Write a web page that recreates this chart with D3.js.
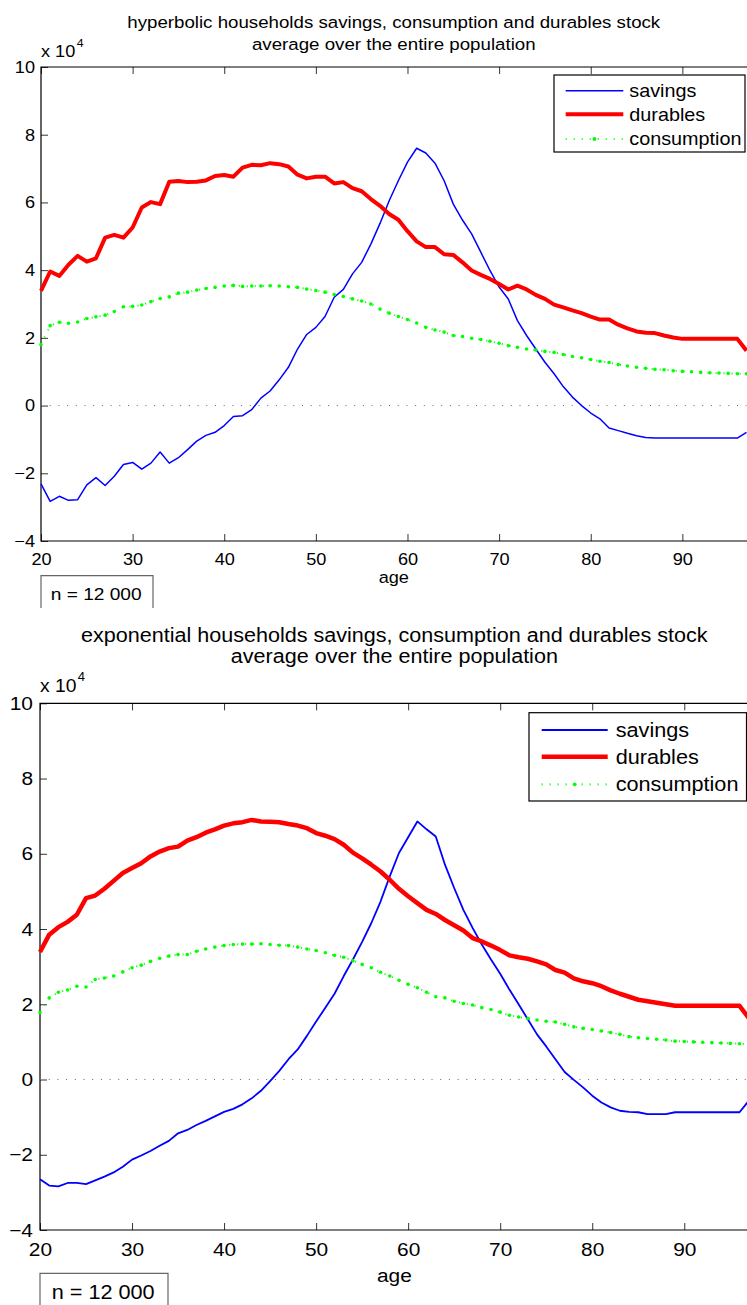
<!DOCTYPE html>
<html>
<head>
<meta charset="utf-8">
<script src="https://cdn.jsdelivr.net/npm/d3@7"></script>
<style>
  body { margin: 0; background: #fff; }
  svg { display: block; }
  text { font-family: "Liberation Sans", Arial, Helvetica, sans-serif; fill: #000; }
</style>
</head>
<body>
<svg id="chart" width="747" height="1305"></svg>
<script>
// Age of household head (years)
const ages = [20,21,22,23,24,25,26,27,28,29,30,31,32,33,34,35,36,37,38,39,
  40,41,42,43,44,45,46,47,48,49,50,51,52,53,54,55,56,57,58,59,
  60,61,62,63,64,65,66,67,68,69,70,71,72,73,74,75,76,77,78,79,
  80,81,82,83,84,85,86,87,88,89,90,91,92,93,94,95,96,97];

// Hyperbolic households, population averages (units of 10^4)
const hypSavings = [-2.31,-2.83,-2.68,-2.80,-2.78,-2.34,-2.13,-2.36,-2.09,-1.74,
  -1.68,-1.88,-1.70,-1.37,-1.70,-1.54,-1.30,-1.05,-0.88,-0.79,
  -0.59,-0.32,-0.30,-0.12,0.22,0.43,0.76,1.13,1.67,2.10,
  2.31,2.63,3.20,3.43,3.89,4.23,4.77,5.38,6.05,6.64,
  7.19,7.60,7.46,7.16,6.64,5.95,5.48,5.07,4.53,3.99,
  3.50,3.15,2.51,2.07,1.67,1.28,0.94,0.56,0.25,0.00,
  -0.22,-0.39,-0.66,-0.74,-0.82,-0.89,-0.94,-0.96,-0.96,-0.96,
  -0.96,-0.96,-0.96,-0.96,-0.96,-0.96,-0.96,-0.79];
const hypDurables = [3.39,3.96,3.83,4.16,4.42,4.25,4.35,4.96,5.04,4.96,
  5.26,5.85,6.01,5.95,6.61,6.63,6.60,6.61,6.65,6.78,
  6.81,6.76,7.03,7.11,7.10,7.16,7.13,7.06,6.82,6.71,
  6.76,6.76,6.56,6.60,6.42,6.33,6.10,5.90,5.66,5.49,
  5.15,4.85,4.68,4.68,4.47,4.45,4.23,3.99,3.86,3.74,
  3.59,3.43,3.54,3.43,3.27,3.15,2.98,2.90,2.81,2.73,
  2.63,2.54,2.54,2.39,2.28,2.19,2.15,2.14,2.07,2.01,
  1.97,1.97,1.97,1.97,1.97,1.97,1.97,1.62];
const hypConsumption = [1.80,2.36,2.46,2.43,2.47,2.57,2.62,2.67,2.78,2.92,
  2.93,2.97,3.07,3.16,3.21,3.32,3.35,3.41,3.46,3.49,
  3.53,3.55,3.52,3.53,3.53,3.54,3.53,3.51,3.49,3.44,
  3.40,3.35,3.28,3.22,3.15,3.09,3.00,2.85,2.73,2.63,
  2.54,2.44,2.31,2.23,2.17,2.07,2.04,1.99,1.95,1.90,
  1.84,1.77,1.72,1.67,1.64,1.60,1.57,1.51,1.45,1.41,
  1.36,1.31,1.27,1.21,1.17,1.13,1.10,1.07,1.06,1.03,
  1.01,1.00,0.98,0.97,0.96,0.95,0.94,0.94];

// Exponential households, population averages (units of 10^4)
const expSavings = [-2.65,-2.82,-2.84,-2.75,-2.75,-2.78,-2.68,-2.58,-2.47,-2.32,
  -2.13,-2.02,-1.90,-1.76,-1.63,-1.43,-1.34,-1.21,-1.10,-0.98,
  -0.86,-0.78,-0.66,-0.50,-0.30,-0.04,0.23,0.54,0.80,1.16,
  1.54,1.91,2.28,2.75,3.19,3.66,4.16,4.73,5.40,6.02,
  6.44,6.86,6.65,6.46,5.71,5.09,4.51,4.03,3.59,3.19,
  2.81,2.39,2.00,1.60,1.20,0.88,0.54,0.20,-0.01,-0.21,
  -0.43,-0.61,-0.74,-0.83,-0.86,-0.87,-0.92,-0.92,-0.92,-0.87,
  -0.87,-0.87,-0.87,-0.87,-0.87,-0.87,-0.87,-0.57];
const expDurables = [3.39,3.85,4.05,4.19,4.38,4.82,4.89,5.07,5.28,5.49,
  5.62,5.75,5.93,6.06,6.15,6.19,6.35,6.44,6.56,6.65,
  6.75,6.81,6.84,6.90,6.86,6.85,6.84,6.79,6.75,6.68,
  6.55,6.48,6.39,6.24,6.03,5.88,5.71,5.53,5.31,5.07,
  4.87,4.69,4.51,4.40,4.24,4.10,3.96,3.76,3.67,3.56,
  3.44,3.30,3.25,3.21,3.14,3.06,2.91,2.84,2.69,2.61,
  2.56,2.48,2.37,2.28,2.20,2.12,2.08,2.04,2.00,1.96,
  1.96,1.96,1.96,1.96,1.96,1.96,1.96,1.64];
const expConsumption = [1.78,2.17,2.32,2.38,2.48,2.46,2.66,2.70,2.75,2.86,
  2.97,3.04,3.14,3.22,3.28,3.32,3.32,3.41,3.47,3.52,
  3.56,3.59,3.60,3.60,3.61,3.59,3.57,3.56,3.52,3.47,
  3.43,3.37,3.30,3.25,3.16,3.06,2.97,2.85,2.75,2.64,
  2.53,2.44,2.32,2.20,2.17,2.08,2.02,1.98,1.91,1.86,
  1.79,1.71,1.66,1.62,1.58,1.55,1.53,1.47,1.40,1.36,
  1.33,1.29,1.25,1.20,1.14,1.11,1.09,1.07,1.05,1.02,
  1.01,1.00,0.99,0.98,0.97,0.96,0.95,0.94];

const xTicks = [20, 30, 40, 50, 60, 70, 80, 90];
const yTicks = [-4, -2, 0, 2, 4, 6, 8, 10];
const seriesNames = ["savings", "durables", "consumption"];
const xLabel = "age";
const sampleNote = "n = 12 000";
const titleHyp = ["hyperbolic households savings, consumption and durables stock",
                  "average over the entire population"];
const titleExp = ["exponential households savings, consumption and durables stock",
                  "average over the entire population"];

const svg = d3.select("#chart");
const SX = 1.1; // horizontal stretch of the lettering

function stretchedText(g, x, y, str, size, anchor) {
  return g.append("text")
    .attr("transform", `translate(${x},${y}) scale(${SX},1)`)
    .attr("font-size", size)
    .attr("text-anchor", anchor || "start")
    .text(str);
}

function drawPanel(p) {
  const g = svg.append("g");
  const x = d3.scaleLinear().domain([20, 97]).range([p.left, p.right]);
  const y = d3.scaleLinear().domain([-4, 10]).range([p.bottom, p.top]);

  // titles
  p.title.forEach((t, i) => stretchedText(g, (p.left + p.right) / 2, p.titleY[i], t, p.titleFs, "middle"));

  // exponent note: "x 10" followed by a raised 4
  const base = stretchedText(g, p.left, p.expY, "x 10", p.expFs);
  const bw = base.node().getComputedTextLength() * SX;
  stretchedText(g, p.left + bw + 1.5, p.expY - p.expFs * 0.6, "4", p.expFs * 0.68);

  // axes
  const yAxis = d3.axisLeft(y).tickValues(yTicks).tickSize(-7).tickSizeOuter(0).tickPadding(p.yPad);
  const gy = g.append("g").attr("transform", `translate(${p.left},0)`).call(yAxis);
  const xAxis = d3.axisBottom(x).tickValues(xTicks).tickSize(-7).tickSizeOuter(0).tickPadding(p.xPad);
  const gx = g.append("g").attr("transform", `translate(0,${p.bottom})`).call(xAxis);
  const xTop = d3.axisTop(x).tickValues(xTicks).tickSize(-7).tickSizeOuter(0).tickFormat("");
  const gt = g.append("g").attr("transform", `translate(0,${p.top})`).call(xTop);
  [gy, gx, gt].forEach(a => {
    a.select(".domain").remove();
    a.attr("font-size", null).attr("font-family", null);
    a.selectAll(".tick line").attr("stroke", "#000").attr("stroke-width", 0.8);
  });
  gy.selectAll(".tick text").attr("font-size", p.tickFs)
    .attr("transform", `scale(${SX},1)`).attr("x", -p.yPad / SX);
  gx.selectAll(".tick text").attr("font-size", p.tickFs)
    .attr("transform", `scale(${SX},1)`);

  // frame (left, bottom, top)
  g.append("path")
    .attr("d", `M${p.right + 2},${p.top}H${p.left}V${p.bottom}H${p.right + 2}`)
    .attr("fill", "none").attr("stroke", "#000").attr("stroke-width", 1.2);

  // zero reference
  g.append("line")
    .attr("x1", p.left).attr("x2", p.right).attr("y1", y(0)).attr("y2", y(0))
    .attr("stroke", "#666").attr("stroke-width", 1).attr("stroke-dasharray", "1,7.7");

  const line = d3.line().x((d, i) => x(ages[i])).y(d => y(d));

  g.append("path").datum(p.savings).attr("d", line)
    .attr("fill", "none").attr("stroke", "#0000ff").attr("stroke-width", p.blueW)
    .attr("stroke-linejoin", "round");
  g.append("path").datum(p.durables).attr("d", line)
    .attr("fill", "none").attr("stroke", "#ff0000").attr("stroke-width", p.redW)
    .attr("stroke-linejoin", "round");
  g.append("path").datum(p.consumption).attr("d", line)
    .attr("fill", "none").attr("stroke", "#00ff00").attr("stroke-width", 2)
    .attr("stroke-dasharray", "1,7");
  g.selectAll("circle.cons").data(p.consumption).join("circle")
    .attr("class", "cons")
    .attr("cx", (d, i) => x(ages[i])).attr("cy", d => y(d)).attr("r", 1.8)
    .attr("fill", "#00ff00");

  // x label
  stretchedText(g, (p.left + p.right) / 2, p.ageY, xLabel, p.tickFs, "middle");

  // legend
  const L = p.legend;
  g.append("rect").attr("x", L.x0).attr("y", L.y0)
    .attr("width", L.x1 - L.x0).attr("height", L.y1 - L.y0)
    .attr("fill", "#fff").attr("stroke", "#000").attr("stroke-width", 1.2);
  const styles = [
    { c: "#0000ff", w: p.blueW },
    { c: "#ff0000", w: p.redW },
    { c: "#00ff00", w: 2.2, dash: "1,7" }
  ];
  seriesNames.forEach((name, i) => {
    const yy = L.rows[i];
    const s = styles[i];
    const ln = g.append("line").attr("x1", L.s0).attr("x2", L.s1).attr("y1", yy).attr("y2", yy)
      .attr("stroke", s.c).attr("stroke-width", s.w);
    if (s.dash) {
      ln.attr("stroke-dasharray", s.dash);
      g.append("circle").attr("cx", (L.s0 + L.s1) / 2).attr("cy", yy).attr("r", 1.9).attr("fill", s.c);
    }
    stretchedText(g, L.tx, yy + L.fs * 0.36, name, L.fs);
  });

  // sample size note
  const N = p.note;
  g.append("path").attr("d", `M${N.x0},${N.y1}V${N.y0}H${N.x1}V${N.y1}`)
    .attr("fill", "none").attr("stroke", "#666").attr("stroke-width", 1.2);
  stretchedText(g, N.tx, N.ty, sampleNote, N.fs);
}

drawPanel({
  title: titleHyp, titleY: [28.3, 50], titleFs: 17,
  left: 41, right: 746.5, top: 67, bottom: 541,
  expY: 57, expFs: 16.5,
  tickFs: 16.5, yPad: 6, xPad: 12.3, ageY: 583,
  blueW: 1.5, redW: 4,
  savings: hypSavings, durables: hypDurables, consumption: hypConsumption,
  legend: { x0: 554, y0: 75, x1: 745, y1: 152, s0: 565.7, s1: 623.3, tx: 629.3,
            rows: [90.7, 114.3, 139], fs: 18 },
  note: { x0: 41, x1: 153, y0: 575.7, y1: 608, tx: 50.7, ty: 600, fs: 17.4 }
});

drawPanel({
  title: titleExp, titleY: [641.7, 663.3], titleFs: 19.6,
  left: 40, right: 748.7, top: 703.3, bottom: 1230,
  expY: 691.7, expFs: 17.5,
  tickFs: 19, yPad: 7, xPad: 12.5, ageY: 1282,
  blueW: 1.8, redW: 4.5,
  savings: expSavings, durables: expDurables, consumption: expConsumption,
  legend: { x0: 529, y0: 712.7, x1: 746.5, y1: 801, s0: 541.7, s1: 607.7, tx: 615.7,
            rows: [730, 756.7, 784.3], fs: 19.7 },
  note: { x0: 40, x1: 168, y0: 1273.3, y1: 1310, tx: 51.7, ty: 1299, fs: 19.7 }
});
</script>
</body>
</html>
